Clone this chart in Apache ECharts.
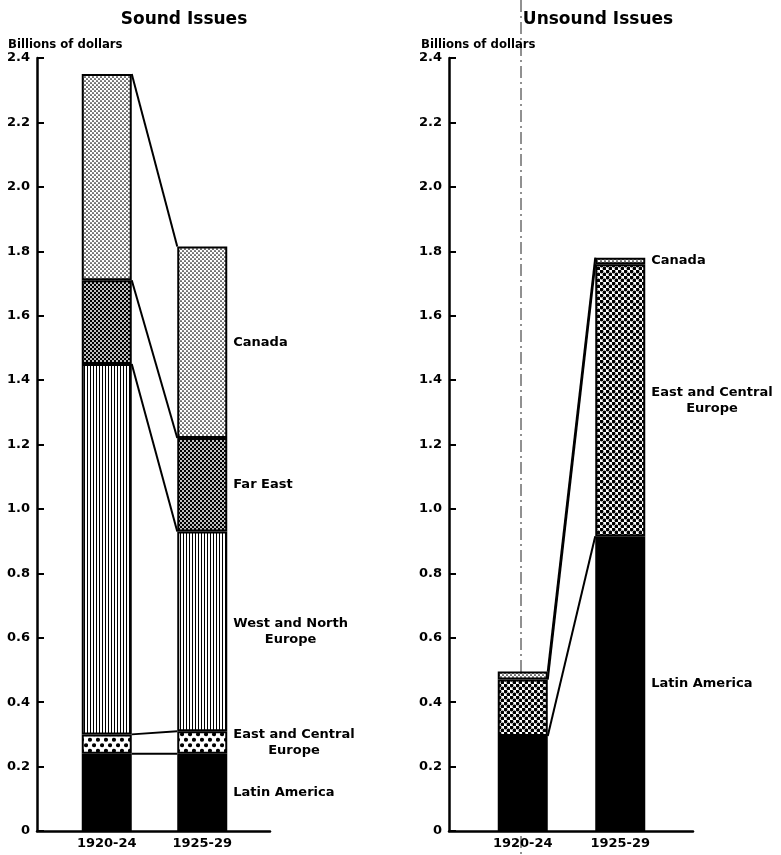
<!DOCTYPE html>
<html>
<head>
<meta charset="utf-8">
<script src="https://cdn.jsdelivr.net/npm/echarts@6/dist/echarts.min.js"></script>
<style>
    html, body { margin: 0; padding: 0; background: #fff; }
    #chart { width: 781px; height: 855px; }
</style>
</head>
<body>
<div id="chart"></div>
<script>
    // periods on the x axis
    var periods = ['1920-24', '1925-29'];

    // sound issues, billions of dollars (segment sizes, bottom to top)
    var soundLatinAmerica = [0.24, 0.24];
    var soundEastCentral = [0.06, 0.07];
    var soundWestNorth = [1.15, 0.62];
    var soundFarEast = [0.26, 0.29];
    var soundCanada = [0.64, 0.595];

    // unsound issues, billions of dollars
    var unsoundLatinAmerica = [0.295, 0.915];
    var unsoundEastCentral = [0.175, 0.845];
    var unsoundCanada = [0.025, 0.02];

    var FONT = '"DejaVu Sans", sans-serif';
    var BAR_W = 50;

    // pattern tiles
    function tile(w, h, bg, fg, draw) {
        var c = document.createElement('canvas');
        c.width = w;
        c.height = h;
        var ctx = c.getContext('2d');
        ctx.fillStyle = bg;
        ctx.fillRect(0, 0, w, h);
        ctx.fillStyle = fg;
        draw(ctx);
        return {image: c, repeat: 'repeat'};
    }
    function dots(pts, r) {
        return function (ctx) {
            pts.forEach(function (p) {
                ctx.beginPath();
                ctx.arc(p[0], p[1], r, 0, Math.PI * 2);
                ctx.fill();
            });
        };
    }
    var stipple = tile(4, 4, '#fff', '#000', dots([[1, 1], [3, 3]], 0.85));
    var darkCheck = tile(4, 4, '#000', '#fff', dots([[1, 1], [3, 3]], 1.0));
    var vLines = tile(3, 1, '#fff', '#000', function (ctx) { ctx.fillRect(0, 0, 1, 1); });
    var bigDots = tile(8, 11, '#fff', '#000', dots([[2, 2.75], [6, 8.25]], 2.1));
    var checker = tile(6, 6, '#fff', '#000', dots([[1.5, 1.5], [4.5, 4.5]], 1.9));

    // label measuring so two-line labels are centred like the original
    var mctx = document.createElement('canvas').getContext('2d');
    mctx.font = 'bold 13px ' + FONT;
    function sideLabel(text) {
        var w = Math.max.apply(null, text.split('\n').map(function (s) {
            return mctx.measureText(s).width;
        }));
        return {
            show: true,
            position: ['100%', '50%'],
            align: 'center',
            verticalAlign: 'middle',
            offset: [6 + w / 2, 0],
            formatter: text,
            color: '#000',
            fontFamily: FONT,
            fontWeight: 'bold',
            fontSize: 13,
            lineHeight: 16
        };
    }

    function barSeries(name, values, fill, axisIdx, stack, labelText) {
        return {
            name: name,
            type: 'bar',
            stack: stack,
            xAxisIndex: axisIdx,
            yAxisIndex: axisIdx,
            barWidth: BAR_W,
            itemStyle: {color: fill, borderColor: '#000', borderWidth: 2},
            data: values.map(function (v, i) {
                return i === 1 ? {value: v, label: sideLabel(labelText)} : v;
            })
        };
    }

    // lines joining matching segment boundaries of the two bars
    function cumulative(list) {
        var acc = [0, 0];
        return list.map(function (arr) {
            acc = [acc[0] + arr[0], acc[1] + arr[1]];
            return [0, acc[0], 1, acc[1]];
        });
    }
    function linkSeries(list, axisIdx) {
        return {
            type: 'custom',
            xAxisIndex: axisIdx,
            yAxisIndex: axisIdx,
            encode: {x: [0, 2], y: [1, 3]},
            data: cumulative(list),
            z: 3,
            renderItem: function (params, api) {
                var a = api.coord([api.value(0), api.value(1)]);
                var b = api.coord([api.value(2), api.value(3)]);
                return {
                    type: 'line',
                    shape: {x1: a[0] + BAR_W / 2, y1: a[1], x2: b[0] - BAR_W / 2, y2: b[1]},
                    style: {stroke: '#000', lineWidth: 2}
                };
            }
        };
    }

    var titleStyle = {fontFamily: FONT, fontSize: 17, fontWeight: 'bold', color: '#000'};
    var unitStyle = {fontFamily: '"DejaVu Sans Condensed", ' + FONT, fontSize: 13, fontWeight: 'bold', color: '#000'};

    function frameYAxis(gridIdx) {
        return {
            gridIndex: gridIdx,
            type: 'value',
            min: 0,
            max: 2.4,
            interval: 0.2,
            axisLine: {show: true, lineStyle: {color: '#000', width: 2.5}},
            axisTick: {show: true, inside: true, length: 7, lineStyle: {color: '#000', width: 2}},
            axisLabel: {
                margin: 7,
                color: '#000',
                fontFamily: FONT,
                fontWeight: 'bold',
                fontSize: 13,
                formatter: function (v) { return v === 0 ? '0' : v.toFixed(1); }
            },
            splitLine: {show: false}
        };
    }
    function frameXAxis(gridIdx) {
        return {
            gridIndex: gridIdx,
            type: 'value',
            min: 0,
            max: 1,
            axisLine: {show: true, onZero: false, lineStyle: {color: '#000', width: 2.5}},
            axisTick: {show: false},
            axisLabel: {show: false},
            splitLine: {show: false}
        };
    }
    function barXAxis(gridIdx) {
        return {
            gridIndex: gridIdx,
            type: 'category',
            data: periods,
            axisLine: {show: false},
            axisTick: {show: false},
            axisLabel: {margin: 6, color: '#000', fontFamily: FONT, fontWeight: 'bold', fontSize: 13}
        };
    }
    function barYAxis(gridIdx) {
        return {gridIndex: gridIdx, type: 'value', min: 0, max: 2.4, show: false};
    }

    var chart = echarts.init(document.getElementById('chart'));
    chart.setOption({
        animation: false,
        title: [
            {text: 'Sound Issues', left: 184, top: 11, padding: 0, textAlign: 'center', textStyle: titleStyle},
            {text: 'Unsound Issues', left: 598, top: 11, padding: 0, textAlign: 'center', textStyle: titleStyle},
            {text: 'Billions of dollars', left: 8, top: 38, padding: 0, textStyle: unitStyle},
            {text: 'Billions of dollars', left: 421, top: 38, padding: 0, textStyle: unitStyle}
        ],
        grid: [
            {left: 37, top: 58, width: 233, height: 773, outerBoundsMode: 'none'},
            {left: 59, top: 58, width: 191, height: 773, outerBoundsMode: 'none'},
            {left: 449, top: 58, width: 244, height: 773, outerBoundsMode: 'none'},
            {left: 474, top: 58, width: 195, height: 773, outerBoundsMode: 'none'}
        ],
        xAxis: [frameXAxis(0), barXAxis(1), frameXAxis(2), barXAxis(3)],
        yAxis: [frameYAxis(0), barYAxis(1), frameYAxis(2), barYAxis(3)],
        graphic: [{
            type: 'line',
            z: -1,
            shape: {x1: 521, y1: 0, x2: 521, y2: 855},
            style: {stroke: '#222', lineWidth: 1, lineDash: [12, 4, 2, 4]}
        }],
        series: [
            barSeries('Latin America', soundLatinAmerica, '#000', 1, 'sound', 'Latin America'),
            barSeries('East and Central Europe', soundEastCentral, bigDots, 1, 'sound', 'East and Central\nEurope'),
            barSeries('West and North Europe', soundWestNorth, vLines, 1, 'sound', 'West and North\nEurope'),
            barSeries('Far East', soundFarEast, darkCheck, 1, 'sound', 'Far East'),
            barSeries('Canada', soundCanada, stipple, 1, 'sound', 'Canada'),
            linkSeries([soundLatinAmerica, soundEastCentral, soundWestNorth, soundFarEast, soundCanada], 1),

            barSeries('Latin America', unsoundLatinAmerica, '#000', 3, 'unsound', 'Latin America'),
            barSeries('East and Central Europe', unsoundEastCentral, checker, 3, 'unsound', 'East and Central\nEurope'),
            barSeries('Canada', unsoundCanada, stipple, 3, 'unsound', 'Canada'),
            linkSeries([unsoundLatinAmerica, unsoundEastCentral, unsoundCanada], 3)
        ]
    });
</script>
</body>
</html>
